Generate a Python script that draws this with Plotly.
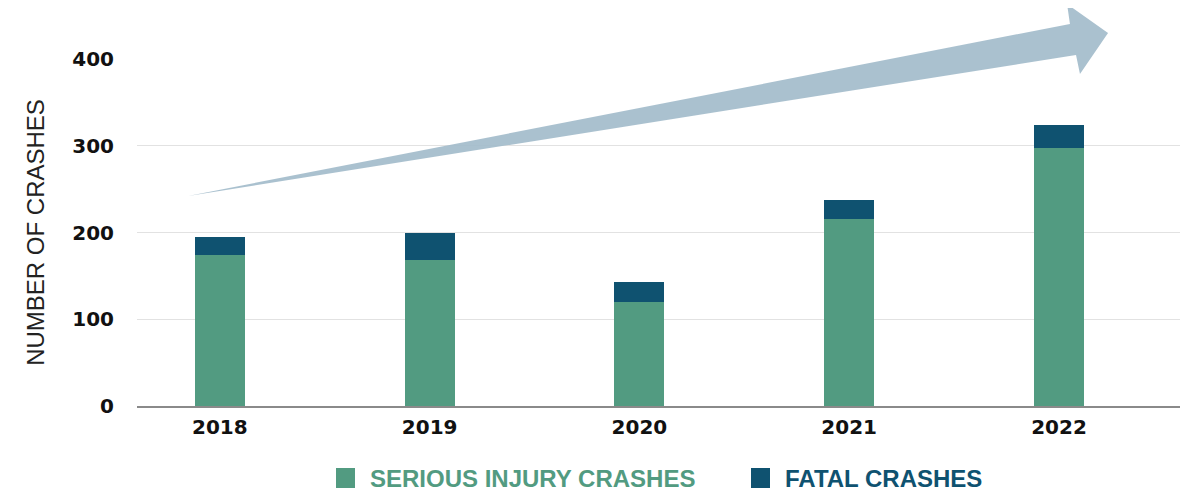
import plotly.graph_objects as go

# crash counts per year
years = ["2018", "2019", "2020", "2021", "2022"]
serious_injury = [174, 168, 120, 216, 297]
fatal = [21, 32, 23, 21, 27]
y_ticks = [0, 100, 200, 300, 400]

SERIOUS_COLOR = "#529b81"
FATAL_COLOR = "#0f5270"
ARROW_COLOR = "#a3bccb"

# trend arrow outline, paper coords (tail -> shaft top -> barb -> tip -> barb -> shaft bottom)
arrow_pts = [
    (0.0489, 0.6052),
    (0.8945, 1.1009),
    (0.8917, 1.1585),
    (0.9310, 1.0749),
    (0.9041, 0.9568),
    (0.9003, 1.0115),
]
arrow_path = "M " + " L ".join(f"{x},{y}" for x, y in arrow_pts) + " Z"

fig = go.Figure()
fig.add_trace(go.Bar(
    x=years, y=serious_injury, name="SERIOUS INJURY CRASHES",
    marker=dict(color=SERIOUS_COLOR, line=dict(width=0)), width=0.238,
))
fig.add_trace(go.Bar(
    x=years, y=fatal, name="FATAL CRASHES",
    marker=dict(color=FATAL_COLOR, line=dict(width=0)), width=0.238,
))

shapes = [dict(type="path", path=arrow_path, xref="paper", yref="paper",
               fillcolor=ARROW_COLOR, opacity=0.92, line=dict(width=0), layer="above")]

# hand-built legend (bigger squares than plotly's own)
legend_items = [
    ("SERIOUS INJURY CRASHES", SERIOUS_COLOR, 0.1908),
    ("FATAL CRASHES", FATAL_COLOR, 0.5887),
]
annotations = []
for label, col, x0 in legend_items:
    shapes.append(dict(type="rect", xref="paper", yref="paper",
                       x0=x0, x1=x0 + 0.0182, y0=-0.2363, y1=-0.1787,
                       fillcolor=col, line=dict(width=0)))
    annotations.append(dict(text=f"<b>{label}</b>", xref="paper", yref="paper",
                            x=x0 + 0.0307, y=-0.2075, xanchor="left", yanchor="middle",
                            showarrow=False,
                            font=dict(family="Liberation Sans, Arial", size=24, color=col)))

# page body has an 8px margin, so the figure is a bit smaller than the window
fig.update_layout(
    width=1184, height=487,
    margin=dict(l=129, r=12, t=51, b=89),
    paper_bgcolor="white", plot_bgcolor="white",
    barmode="stack", showlegend=False,
    shapes=shapes, annotations=annotations,
    xaxis=dict(
        type="category", range=[-0.395, 4.577],
        showline=True, linecolor="#8a8a8a", linewidth=1.5,
        showgrid=False, ticks="", ticklabelstandoff=2,
        tickfont=dict(family="DejaVu Sans", size=20, color="#111111", weight="bold"),
    ),
    yaxis=dict(
        range=[0, 400], tickvals=y_ticks,
        showgrid=True, gridcolor="#e2e2e2", gridwidth=1,
        zeroline=False, ticks="", ticklabelstandoff=22,
        tickfont=dict(family="DejaVu Sans", size=20, color="#111111", weight="bold"),
        title=dict(text="NUMBER OF CRASHES", standoff=20,
                   font=dict(family="Liberation Sans, Arial", size=24, color="#222222")),
    ),
)

fig.write_html("out.html")
